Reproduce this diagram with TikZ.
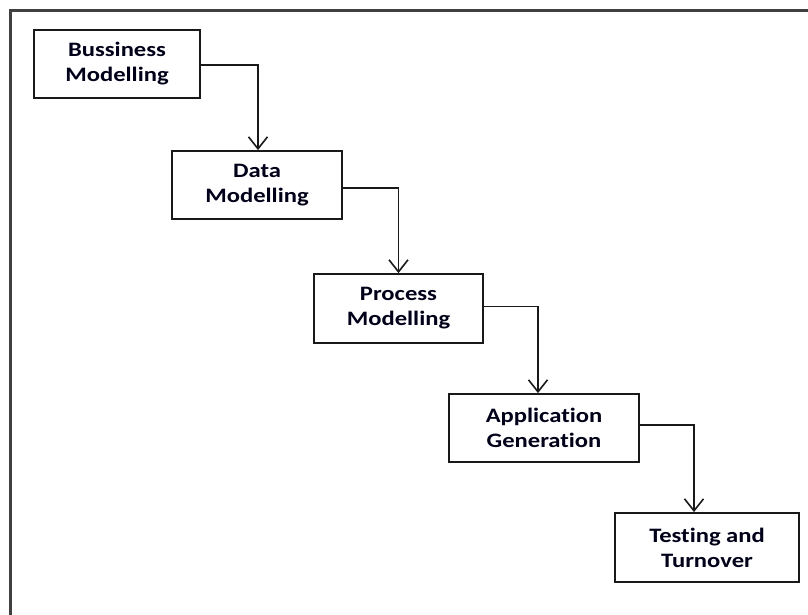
\documentclass[tikz,border=0pt]{standalone}
\usepackage{fontspec}
\setmainfont{Carlito}[FakeStretch=1.2,Ligatures=NoCommon]
\usetikzlibrary{arrows.meta}
\begin{document}
\begin{tikzpicture}[x=1pt,y=-1pt,
  box/.style={draw=black!90, line width=1.8pt, fill=white, align=center,
    inner sep=0pt, minimum height=68pt, text=black!90!blue,
    font=\bfseries\fontsize{20.5}{25}\selectfont},
  flow/.style={draw=black!90, line width=1.6pt, -{Straight Barb[length=12pt,width=19pt]}}]
\useasboundingbox (0,0) rectangle (808,615);
\draw[line width=3pt, draw=black!75] (10,630) |- (830,11);
\node[box, minimum width=166pt] (b1) at (117,64) {Bussiness\\Modelling};
\node[box, minimum width=170pt] (b2) at (257,185) {Data\\Modelling};
\node[box, minimum width=169pt, minimum height=69pt] (b3) at (398.5,308.5) {Process\\Modelling};
\node[box, minimum width=190pt] (b4) at (544,428) {Application\\Generation};
\node[box, minimum width=184pt, minimum height=69pt] (b5) at (707,547.5) {Testing and\\Turnover};
\draw[flow] ([yshift=-1pt]b1.east) -| ([xshift=1pt]b2.north);
\draw[flow] ([yshift=-3pt]b2.east) -| (b3.north);
\draw[flow] ([yshift=2pt]b3.east) -| ([xshift=-6pt]b4.north);
\draw[flow] ([yshift=3pt]b4.east) -| ([xshift=-13pt]b5.north);
\end{tikzpicture}
\end{document}
